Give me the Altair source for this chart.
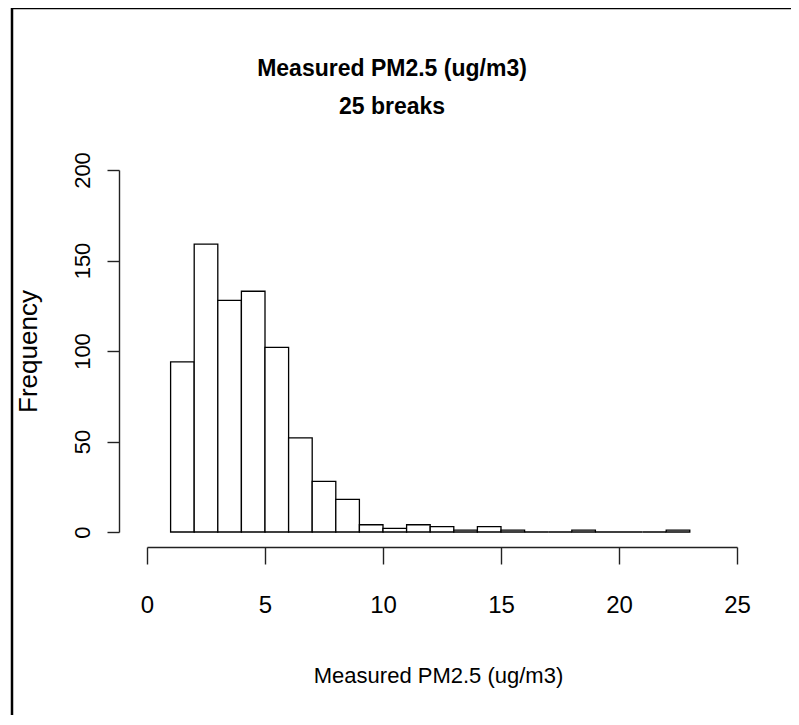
import altair as alt
import pandas as pd

# Histogram bins (width 1) and counts
bin_start = [1, 2, 3, 4, 5, 6, 7, 8, 9, 10, 11, 12, 13, 14, 15, 16, 17, 18, 19, 20, 21, 22]
bin_end = [2, 3, 4, 5, 6, 7, 8, 9, 10, 11, 12, 13, 14, 15, 16, 17, 18, 19, 20, 21, 22, 23]
counts = [94, 159, 128, 133, 102, 52, 28, 18, 4, 2, 4, 3, 1, 3, 1, 0, 0, 1, 0, 0, 0, 1]

x_ticks = [0, 5, 10, 15, 20, 25]
y_ticks = [0, 50, 100, 150, 200]

title_lines = ["Measured PM2.5 (ug/m3)", "25 breaks"]
x_title = "Measured PM2.5 (ug/m3)"
y_title = "Frequency"

df = pd.DataFrame({"start": bin_start, "end": bin_end, "count": counts})

FONT = "Liberation Sans Narrow, Liberation Sans, Arial, sans-serif"

bars = alt.Chart(df).mark_rect(
    fill="white", stroke="black", strokeWidth=1.3
).encode(
    x=alt.X(
        "start:Q",
        scale=alt.Scale(domain=[0, 25], nice=False, zero=False),
        axis=alt.Axis(
            values=x_ticks,
            offset=15,
            tickSize=17,
            tickColor="#222",
            tickWidth=1.4,
            domainColor="#222",
            domainWidth=1.4,
            grid=False,
            labelFont=FONT,
            labelFontSize=24,
            labelColor="black",
            labelPadding=48,
            labelBaseline="alphabetic",
            labelFlush=False,
            labelOverlap=False,
            title=x_title,
            titleFont=FONT,
            titleFontSize=22,
            titleFontWeight="normal",
            titleColor="black",
            titleX=291,
            titleY=135,
            titleBaseline="alphabetic",
            titleAlign="center",
        ),
    ),
    x2="end:Q",
    y=alt.Y(
        "count:Q",
        scale=alt.Scale(domain=[0, 200], nice=False),
        axis=alt.Axis(
            values=y_ticks,
            offset=28,
            tickSize=12,
            tickColor="#222",
            tickWidth=1.4,
            domainColor="#222",
            domainWidth=1.4,
            grid=False,
            labelFont=FONT,
            labelFontSize=22,
            labelColor="black",
            labelAngle=270,
            labelAlign="center",
            labelBaseline="alphabetic",
            labelPadding=18,
            labelOverlap=False,
            labelFlush=False,
            title=y_title,
            titleFont=FONT,
            titleFontSize=26,
            titleFontWeight="normal",
            titleColor="black",
            titleAngle=270,
            titleX=-83,
            titleY=181,
            titleAlign="center",
            titleBaseline="alphabetic",
        ),
    ),
    y2=alt.datum(0),
)

frame_data = alt.Data(values=[{"k": 1}])
left_border = alt.Chart(frame_data).mark_rule(color="black", strokeWidth=2.5).encode(
    x=alt.value(-135), y=alt.value(-162), y2=alt.value(560)
)
top_border = alt.Chart(frame_data).mark_rule(color="black", strokeWidth=2.5).encode(
    x=alt.value(-136), x2=alt.value(660), y=alt.value(-162)
)

chart = alt.layer(bars, left_border, top_border).properties(
    width=590,
    height=362,
    background="white",
    autosize=alt.AutoSizeParams(type="none"),
    padding={"left": 139, "top": 162, "right": 54, "bottom": 183},
    title=alt.TitleParams(
        text=title_lines,
        font=FONT,
        fontSize=23,
        fontWeight="bold",
        color="black",
        anchor="middle",
        frame="group",
        lineHeight=38,
        dx=-50,
        offset=0,
        dy=112,
    ),
).configure_view(strokeWidth=0, stroke="transparent")

chart.save("out.html", embed_options={"renderer": "svg", "actions": False})
